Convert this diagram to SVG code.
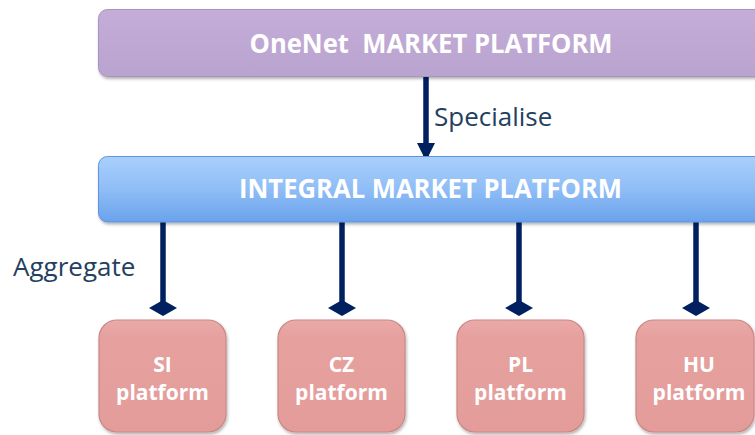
<svg xmlns="http://www.w3.org/2000/svg" width="755" height="435" viewBox="0 0 755 435">
<style>
.t{font-family:"Open Sans","Liberation Sans",sans-serif;font-weight:bold;fill:#ffffff;text-anchor:middle}
.lbl{font-family:"Open Sans","Liberation Sans",sans-serif;fill:#243f60;font-size:26px}
.conn{stroke:#002060;stroke-width:5.5;fill:none}
.plat{fill:url(#gRed);stroke:#c98886;stroke-width:1.2}
</style>
<defs>
<linearGradient id="gPurple" x1="0" y1="0" x2="0" y2="1">
<stop offset="0" stop-color="#c4aed8"/><stop offset="1" stop-color="#b9a3cf"/>
</linearGradient>
<linearGradient id="gBlue" x1="0" y1="0" x2="0" y2="1">
<stop offset="0" stop-color="#a9d0fc"/><stop offset="0.5" stop-color="#8fbdf6"/><stop offset="1" stop-color="#6aa2eb"/>
</linearGradient>
<linearGradient id="gRed" x1="0" y1="0" x2="0" y2="1">
<stop offset="0" stop-color="#eaaaa8"/><stop offset="0.15" stop-color="#e6a19f"/><stop offset="1" stop-color="#e39c9a"/>
</linearGradient>
<filter id="sh" x="-10%" y="-10%" width="120%" height="130%">
<feDropShadow dx="1" dy="2" stdDeviation="1.5" flood-color="#000" flood-opacity="0.3"/>
</filter>
<marker id="arr" markerUnits="userSpaceOnUse" markerWidth="18" markerHeight="20" refX="18" refY="9" orient="auto">
<path d="M0,0 L18,9 L0,18 Z" fill="#002060"/>
</marker>
<marker id="dia" markerUnits="userSpaceOnUse" markerWidth="16" markerHeight="30" refX="8" refY="15" orient="auto">
<path d="M0,15 L8,1 L16,15 L8,29 Z" fill="#002060"/>
</marker>
</defs>

<g id="connectors">
<line class="conn" x1="426" y1="77" x2="426" y2="161" marker-end="url(#arr)"/>
<line class="conn" x1="163" y1="222" x2="163" y2="308" marker-end="url(#dia)"/>
<line class="conn" x1="342" y1="222" x2="342" y2="308" marker-end="url(#dia)"/>
<line class="conn" x1="519" y1="222" x2="519" y2="308" marker-end="url(#dia)"/>
<line class="conn" x1="696" y1="222" x2="696" y2="308" marker-end="url(#dia)"/>
<text class="lbl" x="434" y="126">Specialise</text>
<text class="lbl" x="13" y="276">Aggregate</text>
</g>

<g id="onenet">
<rect x="98.5" y="9.5" width="680" height="67" rx="9" fill="url(#gPurple)" stroke="#a893c0" stroke-width="1" filter="url(#sh)"/>
<text class="t" x="431" y="53" font-size="27" textLength="363" lengthAdjust="spacingAndGlyphs" xml:space="preserve" style="white-space:pre">OneNet  MARKET PLATFORM</text>
</g>

<g id="integral">
<rect x="98.5" y="156.5" width="680" height="65.5" rx="9" fill="url(#gBlue)" stroke="#5f95dc" stroke-width="1" filter="url(#sh)"/>
<text class="t" x="430.5" y="198" font-size="27" textLength="383" lengthAdjust="spacingAndGlyphs">INTEGRAL MARKET PLATFORM</text>
</g>

<g id="si">
<rect class="plat" x="99" y="320" width="127" height="112" rx="18" filter="url(#sh)"/>
<text class="t" x="162.5" y="372" font-size="21">SI</text>
<text class="t" x="162.5" y="400" font-size="21">platform</text>
</g>
<g id="cz">
<rect class="plat" x="278" y="320" width="127" height="112" rx="18" filter="url(#sh)"/>
<text class="t" x="341.5" y="372" font-size="21">CZ</text>
<text class="t" x="341.5" y="400" font-size="21">platform</text>
</g>
<g id="pl">
<rect class="plat" x="457" y="320" width="127" height="112" rx="18" filter="url(#sh)"/>
<text class="t" x="520.5" y="372" font-size="21">PL</text>
<text class="t" x="520.5" y="400" font-size="21">platform</text>
</g>
<g id="hu">
<rect class="plat" x="636" y="320" width="118" height="112" rx="18" filter="url(#sh)"/>
<text class="t" x="699" y="372" font-size="21">HU</text>
<text class="t" x="699" y="400" font-size="21">platform</text>
</g>
</svg>
